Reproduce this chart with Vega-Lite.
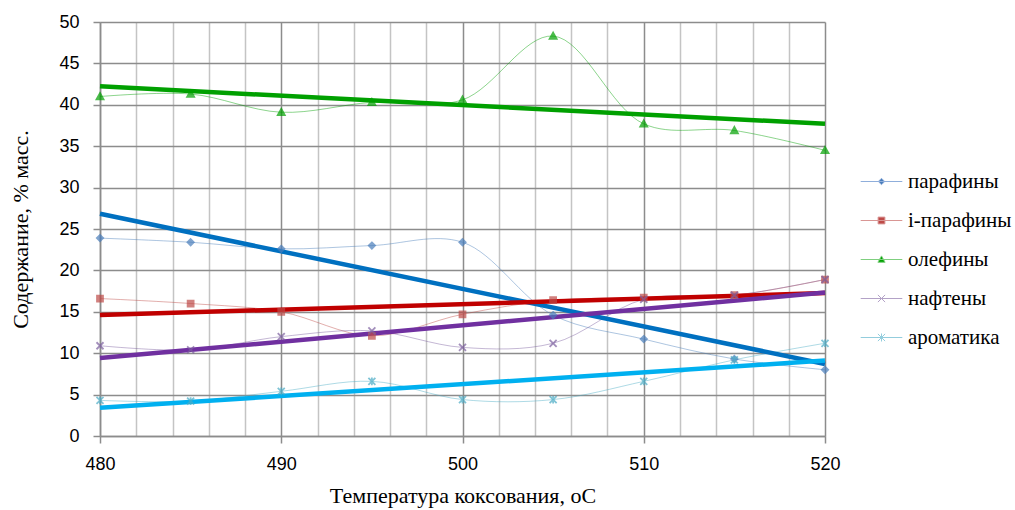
{
  "$schema": "https://vega.github.io/schema/vega-lite/v6.json",
  "width": 725,
  "height": 414,
  "autosize": {"type": "none"},
  "padding": {"left": 100, "top": 22, "right": 190, "bottom": 74},
  "background": "white",
  "config": {
    "view": {"stroke": null},
    "axis": {
      "titleFont": "Liberation Serif",
      "titleFontSize": 22,
      "titleFontWeight": "normal",
      "titleColor": "#000",
      "labelFont": "Liberation Sans",
      "labelFontSize": 18,
      "labelColor": "#000"
    },
    "legend": {
      "labelFont": "Liberation Serif",
      "labelFontSize": 21,
      "labelColor": "#000",
      "labelOffset": 16,
      "rowPadding": 17,
      "symbolStrokeWidth": 1,
      "symbolOpacity": 1
    }
  },
  "data": {
    "values": [
      {"t": 480, "component": "парафины", "value": 23.9},
      {"t": 485, "component": "парафины", "value": 23.4},
      {"t": 490, "component": "парафины", "value": 22.6},
      {"t": 495, "component": "парафины", "value": 23.0},
      {"t": 500, "component": "парафины", "value": 23.4},
      {"t": 505, "component": "парафины", "value": 14.6},
      {"t": 510, "component": "парафины", "value": 11.7},
      {"t": 515, "component": "парафины", "value": 9.3},
      {"t": 520, "component": "парафины", "value": 8.0},
      {"t": 480, "component": "i-парафины", "value": 16.6},
      {"t": 485, "component": "i-парафины", "value": 16.0},
      {"t": 490, "component": "i-парафины", "value": 15.0},
      {"t": 495, "component": "i-парафины", "value": 12.1},
      {"t": 500, "component": "i-парафины", "value": 14.7},
      {"t": 505, "component": "i-парафины", "value": 16.4},
      {"t": 510, "component": "i-парафины", "value": 16.7},
      {"t": 515, "component": "i-парафины", "value": 17.0},
      {"t": 520, "component": "i-парафины", "value": 18.9},
      {"t": 480, "component": "олефины", "value": 41.0},
      {"t": 485, "component": "олефины", "value": 41.3},
      {"t": 490, "component": "олефины", "value": 39.1},
      {"t": 495, "component": "олефины", "value": 40.3},
      {"t": 500, "component": "олефины", "value": 40.6},
      {"t": 505, "component": "олефины", "value": 48.3},
      {"t": 510, "component": "олефины", "value": 37.7},
      {"t": 515, "component": "олефины", "value": 36.9},
      {"t": 520, "component": "олефины", "value": 34.5},
      {"t": 480, "component": "нафтены", "value": 10.9},
      {"t": 485, "component": "нафтены", "value": 10.4},
      {"t": 490, "component": "нафтены", "value": 12.0},
      {"t": 495, "component": "нафтены", "value": 12.7},
      {"t": 500, "component": "нафтены", "value": 10.7},
      {"t": 505, "component": "нафтены", "value": 11.2},
      {"t": 510, "component": "нафтены", "value": 16.5},
      {"t": 515, "component": "нафтены", "value": 17.0},
      {"t": 520, "component": "нафтены", "value": 18.9},
      {"t": 480, "component": "ароматика", "value": 4.3},
      {"t": 485, "component": "ароматика", "value": 4.2},
      {"t": 490, "component": "ароматика", "value": 5.4},
      {"t": 495, "component": "ароматика", "value": 6.6},
      {"t": 500, "component": "ароматика", "value": 4.4},
      {"t": 505, "component": "ароматика", "value": 4.4},
      {"t": 510, "component": "ароматика", "value": 6.6},
      {"t": 515, "component": "ароматика", "value": 9.2},
      {"t": 520, "component": "ароматика", "value": 11.2}
    ]
  },
  "encoding": {
    "x": {
      "field": "t",
      "type": "quantitative",
      "scale": {"domain": [480, 520], "nice": false, "zero": false},
      "axis": {
        "title": "Температура коксования, оС",
        "titlePadding": 12,
        "values": [480, 482, 484, 486, 488, 490, 492, 494, 496, 498, 500, 502, 504, 506, 508, 510, 512, 514, 516, 518, 520],
        "labelExpr": "datum.value % 10 === 0 ? datum.label : ''",
        "labelPadding": 12,
        "labelFlush": false,
        "labelOverlap": false,
        "grid": true,
        "gridColor": {"condition": {"test": "datum.value % 10 === 0", "value": "#8c8c8c"}, "value": "#c4c4c4"},
        "gridWidth": 1.5,
        "tickSize": 7,
        "tickColor": "#8c8c8c",
        "tickWidth": 1.5,
        "tickOpacity": {"condition": {"test": "datum.value % 10 === 0", "value": 1}, "value": 0},
        "domainColor": "#8c8c8c",
        "domainWidth": 1.5
      }
    },
    "y": {
      "field": "value",
      "type": "quantitative",
      "scale": {"domain": [0, 50], "nice": false},
      "axis": {
        "title": "Содержание, % масс.",
        "titlePadding": 26,
        "values": [0, 5, 10, 15, 20, 25, 30, 35, 40, 45, 50],
        "labelPadding": 14,
        "labelFlush": false,
        "grid": true,
        "gridColor": "#8c8c8c",
        "gridWidth": 1.5,
        "tickSize": 7,
        "tickColor": "#8c8c8c",
        "tickWidth": 1.5,
        "domainColor": "#8c8c8c",
        "domainWidth": 1.5
      }
    }
  },
  "layer": [
    {
      "mark": {"type": "line", "interpolate": "catmull-rom", "strokeWidth": 1, "opacity": 0.45},
      "encoding": {
        "stroke": {
          "field": "component",
          "type": "nominal",
          "legend": null,
          "scale": {
            "domain": ["парафины", "i-парафины", "олефины", "нафтены", "ароматика"],
            "range": ["#4A7EBB", "#BE4B48", "#00A000", "#7D60A0", "#4BACC6"]
          }
        }
      }
    },
    {
      "transform": [
        {"regression": "value", "on": "t", "groupby": ["component"], "extent": [480, 520]}
      ],
      "mark": {"type": "line", "strokeWidth": 4.5},
      "encoding": {
        "stroke": {
          "field": "component",
          "type": "nominal",
          "legend": null,
          "scale": {
            "domain": ["парафины", "i-парафины", "олефины", "нафтены", "ароматика"],
            "range": ["#0070C0", "#C00000", "#00A000", "#7030A0", "#00B0F0"]
          }
        }
      }
    },
    {
      "mark": {"type": "point", "size": 49, "strokeWidth": 1.8, "filled": true},
      "encoding": {
        "shape": {
          "field": "component",
          "type": "nominal",
          "legend": null,
          "scale": {
            "domain": ["парафины", "i-парафины", "олефины", "нафтены", "ароматика"],
            "range": [
              "M0,-0.9L0.9,0L0,0.9L-0.9,0Z",
              "M-0.85,-0.85L0.85,-0.85L0.85,0.85L-0.85,0.85Z",
              "M0,-1L1,0.8L-1,0.8Z",
              "M-1,-1L1,1M-1,1L1,-1",
              "M-1,-1L1,1M-1,1L1,-1M0,-1.1L0,1.1"
            ]
          }
        },
        "fill": {
          "field": "component",
          "type": "nominal",
          "legend": null,
          "scale": {
            "domain": ["парафины", "i-парафины", "олефины", "нафтены", "ароматика"],
            "range": ["#4A7EBB", "#BE4B48", "#00A000", "#7D60A0", "#4BACC6"]
          }
        },
        "stroke": {
          "field": "component",
          "type": "nominal",
          "legend": null,
          "scale": {
            "domain": ["парафины", "i-парафины", "олефины", "нафтены", "ароматика"],
            "range": ["#4A7EBB", "#BE4B48", "#00A000", "#7D60A0", "#4BACC6"]
          }
        }
      }
    },
    {
      "transform": [{"filter": "datum.t > 9999"}],
      "mark": {"type": "point", "size": 64, "strokeWidth": 1, "filled": true},
      "encoding": {
        "shape": {
          "field": "component",
          "type": "nominal",
          "scale": {
            "domain": ["парафины", "i-парафины", "олефины", "нафтены", "ароматика"],
            "range": [
              "M-5.2,0L5.2,0M0,-0.8L0.8,0L0,0.8L-0.8,0Z",
              "M-5.2,0L5.2,0M-0.85,-0.85L0.85,-0.85L0.85,0.85L-0.85,0.85Z",
              "M-5.2,0L5.2,0M0,-0.9L0.9,0.7L-0.9,0.7Z",
              "M-5.2,0L5.2,0M-0.9,-0.9L0.9,0.9M-0.9,0.9L0.9,-0.9",
              "M-5.2,0L5.2,0M-0.9,-0.9L0.9,0.9M-0.9,0.9L0.9,-0.9M0,-1L0,1"
            ]
          },
          "legend": {
            "title": null,
            "orient": "none",
            "legendX": 771,
            "legendY": 149,
            "symbolSize": 64
          }
        },
        "fill": {
          "field": "component",
          "type": "nominal",
          "scale": {
            "domain": ["парафины", "i-парафины", "олефины", "нафтены", "ароматика"],
            "range": ["#4A7EBB", "#BE4B48", "#00A000", "#7D60A0", "#4BACC6"]
          },
          "legend": {
            "title": null,
            "orient": "none",
            "legendX": 771,
            "legendY": 149,
            "symbolSize": 64
          }
        },
        "stroke": {
          "field": "component",
          "type": "nominal",
          "scale": {
            "domain": ["парафины", "i-парафины", "олефины", "нафтены", "ароматика"],
            "range": ["#8FAEDB", "#D99694", "#7FCF7F", "#B3A2C7", "#93CDDD"]
          },
          "legend": {
            "title": null,
            "orient": "none",
            "legendX": 771,
            "legendY": 149,
            "symbolSize": 64
          }
        }
      }
    }
  ],
  "resolve": {
    "scale": {"stroke": "independent", "fill": "independent", "shape": "independent"},
    "legend": {"stroke": "independent", "fill": "independent", "shape": "independent"}
  }
}
